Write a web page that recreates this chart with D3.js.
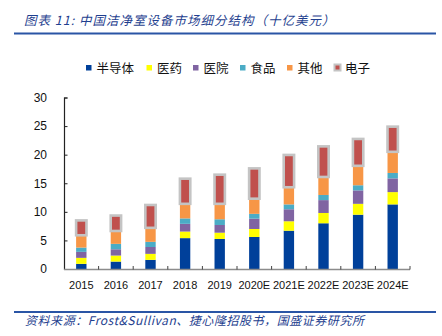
<!DOCTYPE html>
<html><head><meta charset="utf-8">
<script src="https://cdn.jsdelivr.net/npm/d3@7/dist/d3.min.js"></script>
<style>body{margin:0;background:#fff}svg{display:block}</style>
</head><body><svg id="c" width="442" height="336"></svg>
<script>
const years = ["2015","2016","2017","2018","2019","2020E","2021E","2022E","2023E","2024E"];
const seriesNames = ["半导体","医药","医院","食品","其他","电子"];
const semi     = [0.9, 1.3, 1.6, 5.4, 5.25, 5.6, 6.7, 8.0, 9.5, 11.3];
const pharma   = [1.05,1.05,1.05,1.15,1.1, 1.4, 1.65,1.8, 1.9, 2.15];
const hospital = [1.05,1.1, 1.2, 1.35,1.35,1.8, 2.1, 2.25,2.35,2.4];
const food     = [0.75,0.95,0.9, 0.95,1.0, 0.85,0.85,0.9, 0.9, 0.95];
const other    = [2.15,2.25,2.45,2.55,2.7, 2.65,3.0, 3.15,3.4, 3.7];
const elec     = [2.6, 2.7, 4.0, 4.4, 5.1, 5.3, 5.65,5.35,4.7, 4.4];
const yTicks = [0,5,10,15,20,25,30];
const colors = ["#00409a","#ffff00","#8064a2","#4bacc6","#f79646","#c0504d"];

const svg = d3.select("#c");
const m = {l:64, r:32, t:97.5, b:67};
const W = 442, H = 336;
const x = d3.scaleBand().domain(years).range([m.l, W - m.r]).paddingInner(0.7).paddingOuter(0.35);
const y = d3.scaleLinear().domain([0,30]).range([269, 97.5]);

const table = years.map((yr,i)=>({year:yr, "半导体":semi[i], "医药":pharma[i], "医院":hospital[i], "食品":food[i], "其他":other[i], "电子":elec[i]}));
const stacked = d3.stack().keys(seriesNames)(table);

// header
svg.append("text").attr("x",24).attr("y",25).attr("fill","#1f3f8f")
  .style("font-family","'Noto Sans CJK SC'").style("font-style","italic").style("font-size","12.5px")
  .style("letter-spacing","1px")
  .text("图表 11:  中国洁净室设备市场细分结构（十亿美元）");
svg.append("line").attr("x1",14).attr("x2",436).attr("y1",33.5).attr("y2",33.5).attr("stroke","#2a55a5").attr("stroke-width",2);

// bars
const g = svg.append("g");
stacked.forEach((s,k)=>{
  g.selectAll(null).data(s).enter().append("rect")
    .attr("x", d=>x(d.data.year))
    .attr("width", x.bandwidth())
    .attr("y", d=>y(d[1]))
    .attr("height", d=>y(d[0])-y(d[1]))
    .attr("fill", colors[k])
    .attr("stroke", k===5 ? "#c4c4c4" : null)
    .attr("stroke-width", k===5 ? 2.6 : null);
});

// y axis
const yAxis = d3.axisLeft(y).tickValues(yTicks).tickSize(-3.5).tickPadding(17);
const ya = svg.append("g").attr("transform",`translate(${m.l},0)`).call(yAxis);
ya.select(".domain").attr("stroke","#222").attr("stroke-width",1.2);
ya.selectAll(".tick line").attr("stroke","#222");
ya.selectAll("text").style("font-family","'Liberation Sans'").style("font-size","12px").attr("fill","#111");

// x axis
const xa = svg.append("g").attr("transform",`translate(0,269.5)`);
xa.append("line").attr("x1",m.l).attr("x2",W-m.r).attr("stroke","#8c8c8c").attr("stroke-width",1.6);
const step = x.step();
const bx = years.map((yr,i)=> x(yr) + x.bandwidth()/2 + step/2);
xa.selectAll(null).data(bx).enter().append("line")
  .attr("x1",d=>d).attr("x2",d=>d).attr("y1",0).attr("y2",-3.5).attr("stroke","#444");
xa.selectAll(null).data(years).enter().append("text")
  .attr("x",d=>x(d)+x.bandwidth()/2).attr("y",19.5).attr("text-anchor","middle")
  .style("font-family","'Liberation Sans'").style("font-size","11px").attr("fill","#111").text(d=>d);

// legend
const legX = [86,146.5,193,240,287,333];
const lg = svg.append("g");
seriesNames.forEach((n,k)=>{
  if(k===5){
    lg.append("rect").attr("x",legX[k]+0.5).attr("y",63.5).attr("width",8).attr("height",8).attr("fill","#c4c4c4");
    lg.append("rect").attr("x",legX[k]+2.5).attr("y",65.5).attr("width",4).attr("height",4).attr("fill",colors[k]);
    lg.append("text").attr("x",legX[k]+12).attr("y",72.5).style("font-family","'Noto Sans CJK SC'").style("font-size","12.5px").attr("fill","#111").text(n);
  } else {
    lg.append("rect").attr("x",legX[k]).attr("y",65).attr("width",5.5).attr("height",5.5).attr("fill",colors[k]);
    lg.append("text").attr("x",legX[k]+10.5).attr("y",72.5).style("font-family","'Noto Sans CJK SC'").style("font-size","12.5px").attr("fill","#111").text(n);
  }
});

// footer
svg.append("line").attr("x1",14).attr("x2",436).attr("y1",312).attr("y2",312).attr("stroke","#2a55a5").attr("stroke-width",2);
svg.append("text").attr("x",25).attr("y",325).attr("fill","#1f3f8f")
  .style("font-family","'Noto Sans CJK SC'").style("font-style","italic").style("font-size","12px")
  .style("letter-spacing","0.55px")
  .text("资料来源：Frost&Sullivan、捷心隆招股书，国盛证券研究所");
</script></body></html>
